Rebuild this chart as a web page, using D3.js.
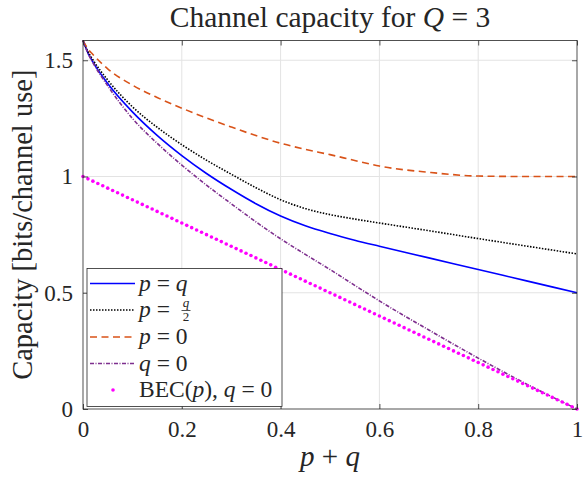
<!DOCTYPE html>
<html>
<head>
<meta charset="utf-8">
<script src="https://cdn.jsdelivr.net/npm/d3@7"></script>
<style>
  body { margin: 0; background: #fff; }
  text { font-family: "Liberation Serif", "Times New Roman", serif; fill: #262626; }
</style>
</head>
<body>
<svg></svg>
<script>
/* Channel capacity for Q = 3 */
var w = 583, h = 478;

// p + q sample points and capacity
var sumPQ     = [0, 0.01, 0.02, 0.05, 0.1, 0.15, 0.2, 0.25, 0.3, 0.35, 0.4, 0.45, 0.5, 0.55, 0.6, 0.7, 0.8, 0.9, 1];
var capPeqQ   = [1.585, 1.532, 1.493, 1.400, 1.278, 1.177, 1.090, 1.013, 0.945, 0.883, 0.830, 0.788, 0.755, 0.726, 0.700, 0.650, 0.600, 0.550, 0.500];
var capPhalfQ = [1.585, 1.537, 1.502, 1.415, 1.300, 1.212, 1.137, 1.070, 1.010, 0.952, 0.900, 0.862, 0.836, 0.817, 0.800, 0.767, 0.733, 0.700, 0.667];
var capP0     = [1.585, 1.549, 1.525, 1.463, 1.393, 1.340, 1.294, 1.252, 1.213, 1.176, 1.143, 1.117, 1.094, 1.069, 1.045, 1.018, 1.002, 1.000, 1.000];
var capQ0     = [1.585, 1.530, 1.490, 1.390, 1.250, 1.143, 1.049, 0.963, 0.883, 0.805, 0.732, 0.665, 0.600, 0.532, 0.465, 0.340, 0.219, 0.105, 0.000];

// BEC(p) markers
var becP = [0,0.01,0.02,0.03,0.04,0.05,0.06,0.07,0.08,0.09,0.1,0.11,0.12,0.13,0.14,0.15,0.16,0.17,0.18,0.19,
            0.2,0.21,0.22,0.23,0.24,0.25,0.26,0.27,0.28,0.29,0.3,0.31,0.32,0.33,0.34,0.35,0.36,0.37,0.38,0.39,
            0.4,0.41,0.42,0.43,0.44,0.45,0.46,0.47,0.48,0.49,0.5,0.51,0.52,0.53,0.54,0.55,0.56,0.57,0.58,0.59,
            0.6,0.61,0.62,0.63,0.64,0.65,0.66,0.67,0.68,0.69,0.7,0.71,0.72,0.73,0.74,0.75,0.76,0.77,0.78,0.79,
            0.8,0.81,0.82,0.83,0.84,0.85,0.86,0.87,0.88,0.89,0.9,0.91,0.92,0.93,0.94,0.95,0.96,0.97,0.98,0.99,1];
var becCap = [1,0.99,0.98,0.97,0.96,0.95,0.94,0.93,0.92,0.91,0.9,0.89,0.88,0.87,0.86,0.85,0.84,0.83,0.82,0.81,
              0.8,0.79,0.78,0.77,0.76,0.75,0.74,0.73,0.72,0.71,0.7,0.69,0.68,0.67,0.66,0.65,0.64,0.63,0.62,0.61,
              0.6,0.59,0.58,0.57,0.56,0.55,0.54,0.53,0.52,0.51,0.5,0.49,0.48,0.47,0.46,0.45,0.44,0.43,0.42,0.41,
              0.4,0.39,0.38,0.37,0.36,0.35,0.34,0.33,0.32,0.31,0.3,0.29,0.28,0.27,0.26,0.25,0.24,0.23,0.22,0.21,
              0.2,0.19,0.18,0.17,0.16,0.15,0.14,0.13,0.12,0.11,0.1,0.09,0.08,0.07,0.06,0.05,0.04,0.03,0.02,0.01,0];

var xTicks = [0, 0.2, 0.4, 0.6, 0.8, 1];
var yTicks = [0, 0.5, 1, 1.5];
var yMax = 1.585;

var series = [
  {name: "p=q",   vals: capPeqQ,   color: "#0000ff", dash: null},
  {name: "p=q/2", vals: capPhalfQ, color: "#000000", dash: "1.5 1.5"},
  {name: "p=0",   vals: capP0,     color: "#d95319", dash: "7 4.5"},
  {name: "q=0",   vals: capQ0,     color: "#7e2f8e", dash: "4 1.5 1 1.5"}
];

var pL = 83, pR = 577, pT = 40.5, pB = 409;

var svg = d3.select("svg")
            .attr("width", w)
            .attr("height", h);

svg.append("rect").attr("width", w).attr("height", h).attr("fill", "#fff");

var x = d3.scaleLinear().domain([0, 1]).range([pL, pR]);
var y = d3.scaleLinear().domain([0, yMax]).range([pB, pT]);

// grid
var grid = svg.append("g").attr("class", "grid");
grid.selectAll("line.gx")
   .data(xTicks.slice(1, -1))
   .enter()
   .append("line")
   .attr("class", "gx")
   .attr("x1", function(d) { return x(d); })
   .attr("x2", function(d) { return x(d); })
   .attr("y1", pT).attr("y2", pB)
   .attr("stroke", "#e3e3e3").attr("stroke-width", 1);

grid.selectAll("line.gy")
   .data(yTicks.slice(1))
   .enter()
   .append("line")
   .attr("class", "gy")
   .attr("x1", pL).attr("x2", pR)
   .attr("y1", function(d) { return y(d); })
   .attr("y2", function(d) { return y(d); })
   .attr("stroke", "#e3e3e3").attr("stroke-width", 1);

// curves
var line = d3.line()
             .x(function(d) { return x(d[0]); })
             .y(function(d) { return y(d[1]); })
             .curve(d3.curveMonotoneX);

svg.append("g")
   .attr("class", "curves")
   .selectAll("path")
   .data(series)
   .enter()
   .append("path")
   .attr("d", function(s) { return line(sumPQ.map(function(v, i) { return [v, s.vals[i]]; })); })
   .attr("fill", "none")
   .attr("stroke", function(s) { return s.color; })
   .attr("stroke-width", 1.6)
   .attr("stroke-dasharray", function(s) { return s.dash; });

svg.append("g")
   .attr("class", "bec")
   .selectAll("circle")
   .data(becP)
   .enter()
   .append("circle")
   .attr("cx", function(d) { return x(d); })
   .attr("cy", function(d, i) { return y(becCap[i]); })
   .attr("r", 1.8)
   .attr("fill", "#ff00ff");

// axes (ticks inside, box all round)
function styleAxis(g) {
  g.attr("font-family", null);
  g.select(".domain").remove();
  g.selectAll(".tick line").attr("stroke", "#262626").attr("stroke-width", 0.8);
  g.selectAll(".tick text").attr("font-size", "23px").attr("fill", "#262626")
   .style("font-family", "'Liberation Serif', serif");
}

svg.append("g")
   .attr("transform", "translate(0," + pB + ")")
   .call(d3.axisBottom(x).tickValues(xTicks).tickSize(-5).tickPadding(12).tickFormat(d3.format("~g")))
   .call(styleAxis);

svg.append("g")
   .attr("transform", "translate(0," + pT + ")")
   .call(d3.axisTop(x).tickValues(xTicks).tickSize(-5).tickFormat(""))
   .call(styleAxis);

svg.append("g")
   .attr("transform", "translate(" + pL + ",0)")
   .call(d3.axisLeft(y).tickValues(yTicks).tickSize(-5).tickPadding(10).tickFormat(d3.format("~g")))
   .call(styleAxis);

svg.append("g")
   .attr("transform", "translate(" + pR + ",0)")
   .call(d3.axisRight(y).tickValues(yTicks).tickSize(-5).tickFormat(""))
   .call(styleAxis);

svg.append("rect")
   .attr("x", pL).attr("y", pT)
   .attr("width", pR - pL).attr("height", pB - pT)
   .attr("fill", "none")
   .attr("stroke", "#262626")
   .attr("stroke-width", 0.8);

// title and labels
var title = svg.append("text")
   .attr("x", (pL + pR) / 2).attr("y", 27)
   .attr("text-anchor", "middle")
   .attr("font-size", "29.5px")
   .attr("fill", "#000");
title.append("tspan").text("Channel capacity for ");
title.append("tspan").attr("font-style", "italic").text("Q");
title.append("tspan").text(" = 3");

var xl = svg.append("text")
   .attr("x", (pL + pR) / 2).attr("y", 466)
   .attr("text-anchor", "middle")
   .attr("font-size", "29px");
xl.append("tspan").attr("font-style", "italic").text("p");
xl.append("tspan").text(" + ");
xl.append("tspan").attr("font-style", "italic").text("q");

svg.append("text")
   .attr("transform", "translate(32," + (pT + pB) / 2 + ") rotate(-90)")
   .attr("text-anchor", "middle")
   .attr("font-size", "28.5px")
   .text("Capacity [bits/channel use]");

// legend
var lg = svg.append("g").attr("class", "legend");
lg.append("rect")
  .attr("x", 87).attr("y", 268.5)
  .attr("width", 195).attr("height", 138)
  .attr("fill", "#fff")
  .attr("stroke", "#262626")
  .attr("stroke-width", 0.8);

var rowY = [283.5, 310, 337, 363.5, 390];

series.forEach(function(s, i) {
  lg.append("line")
    .attr("x1", 90).attr("x2", 135)
    .attr("y1", rowY[i]).attr("y2", rowY[i])
    .attr("stroke", s.color)
    .attr("stroke-width", 1.6)
    .attr("stroke-dasharray", s.dash);
});
lg.append("circle").attr("cx", 113).attr("cy", rowY[4]).attr("r", 1.8).attr("fill", "#ff00ff");

function mathRow(i, parts) {
  var t = lg.append("text").attr("x", 139).attr("y", rowY[i] + 7).attr("font-size", "23.5px");
  parts.forEach(function(p) {
    t.append("tspan").attr("font-style", p[1] ? "italic" : null).text(p[0]);
  });
  return t;
}
mathRow(0, [["p", 1], [" = ", 0], ["q", 1]]);
mathRow(1, [["p", 1], [" = ", 0]]);
mathRow(2, [["p", 1], [" = 0", 0]]);
mathRow(3, [["q", 1], [" = 0", 0]]);
mathRow(4, [["BEC(", 0], ["p", 1], ["), ", 0], ["q", 1], [" = 0", 0]]);

// q/2 fraction
lg.append("text").attr("x", 186).attr("y", rowY[1] - 3.5).attr("text-anchor", "middle")
  .attr("font-size", "13px").attr("font-style", "italic").text("q");
lg.append("line").attr("x1", 181.5).attr("x2", 190.5).attr("y1", rowY[1] + 0.5).attr("y2", rowY[1] + 0.5)
  .attr("stroke", "#262626").attr("stroke-width", 0.8);
lg.append("text").attr("x", 186).attr("y", rowY[1] + 10.5).attr("text-anchor", "middle")
  .attr("font-size", "13px").text("2");
</script>
</body>
</html>
